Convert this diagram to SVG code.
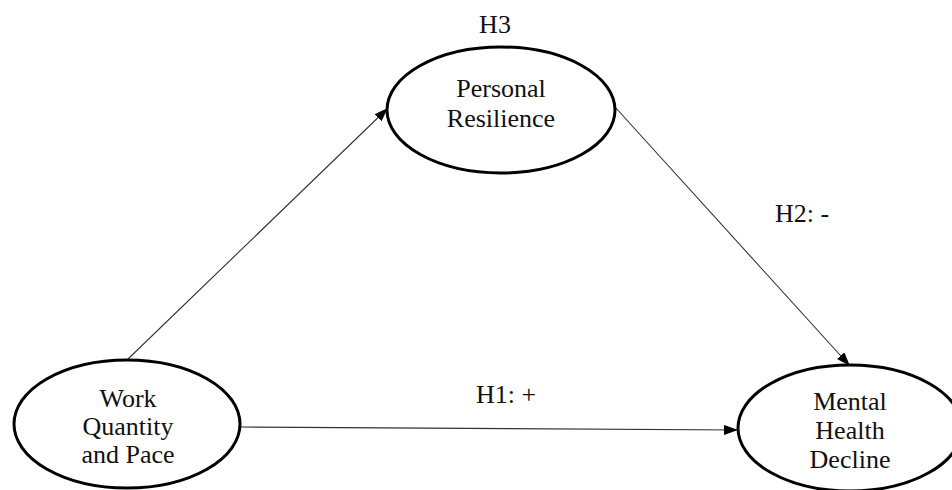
<svg xmlns="http://www.w3.org/2000/svg" width="952" height="490" viewBox="0 0 952 490">
<style>
.node{fill:#fff;stroke:#000;stroke-width:3}
.lbl{font-size:26px;fill:#111;text-anchor:middle}
.edge{stroke:#333;stroke-width:1.1;fill:none;marker-end:url(#ah)}
</style>
<defs>
<marker id="ah" viewBox="0 0 14 10" refX="14" refY="5" markerWidth="14" markerHeight="10" markerUnits="userSpaceOnUse" orient="auto">
<path d="M0,0 L14,5 L0,10 z" fill="#000"/>
</marker>
</defs>
<rect width="952" height="490" fill="#fff"/>
<g font-family="Liberation Serif, DejaVu Serif, serif">
<g id="connectors">
<line class="edge" x1="128" y1="359" x2="388" y2="108"/>
<line class="edge" x1="615" y1="107" x2="850" y2="366"/>
<line class="edge" x1="240" y1="427" x2="738" y2="430"/>
<text class="lbl" x="506" y="403">H1: +</text>
<text class="lbl" x="802" y="222">H2: -</text>
<text class="lbl" x="495" y="33">H3</text>
</g>
<g id="work">
<ellipse class="node" cx="127" cy="424" rx="113" ry="64"/>
<text class="lbl" x="128" y="407">Work</text>
<text class="lbl" x="128" y="435">Quantity</text>
<text class="lbl" x="128" y="463">and Pace</text>
</g>
<g id="resilience">
<ellipse class="node" cx="501" cy="110" rx="114" ry="63"/>
<text class="lbl" x="501" y="97">Personal</text>
<text class="lbl" x="501" y="127">Resilience</text>
</g>
<g id="mental">
<ellipse class="node" cx="850" cy="428" rx="112" ry="63"/>
<text class="lbl" x="850" y="410">Mental</text>
<text class="lbl" x="850" y="439">Health</text>
<text class="lbl" x="850" y="468">Decline</text>
</g>
</g>
</svg>
